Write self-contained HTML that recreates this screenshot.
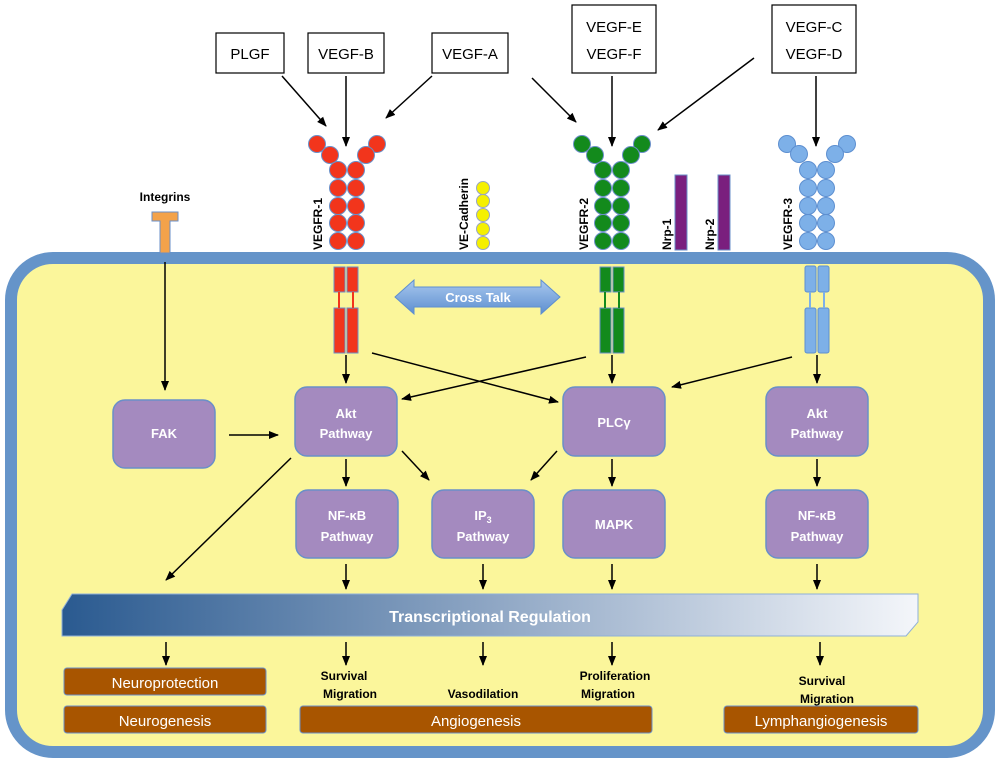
<!DOCTYPE html>
<html><head><meta charset="utf-8"><style>
body{margin:0;background:#fff}
svg{display:block}
text{font-family:"Liberation Sans",sans-serif}
.lb{font-size:15px;fill:#000}
.pt{font-size:13px;font-weight:bold;fill:#fff;text-anchor:middle}
.bt{font-size:15px;fill:#fff;text-anchor:middle}
.ot{font-size:12px;font-weight:bold;fill:#000;text-anchor:middle}
.vt{font-size:12px;font-weight:bold;fill:#000}
</style></head><body>
<svg width="1000" height="766" viewBox="0 0 1000 766" xmlns="http://www.w3.org/2000/svg">
<defs>
<marker id="a" markerWidth="10" markerHeight="10" refX="9" refY="5" orient="auto" markerUnits="userSpaceOnUse"><path d="M0,1 L10,5 L0,9 z" fill="#000"/></marker>
<linearGradient id="tg" x1="0" x2="1"><stop offset="0" stop-color="#2a5a90"/><stop offset="0.5" stop-color="#8ea6c4"/><stop offset="1" stop-color="#f4f6fa"/></linearGradient>
<linearGradient id="cg" x1="0" y1="0" x2="0" y2="1"><stop offset="0" stop-color="#a9c8ee"/><stop offset="1" stop-color="#5d8fd0"/></linearGradient>
</defs>
<rect x="11" y="258" width="978" height="494" rx="42" fill="#fbf69b" stroke="#6594c9" stroke-width="12"/>
<g fill="#fff" stroke="#000" stroke-width="1.2">
<rect x="216" y="33" width="68" height="40"/><rect x="308" y="33" width="76" height="40"/><rect x="432" y="33" width="76" height="40"/>
<rect x="572" y="5" width="84" height="68"/><rect x="772" y="5" width="84" height="68"/></g>
<g class="lb" text-anchor="middle">
<text x="250" y="59" class="lb">PLGF</text><text x="346" y="59" class="lb">VEGF-B</text><text x="470" y="59" class="lb">VEGF-A</text>
<text x="614" y="32" class="lb">VEGF-E</text><text x="614" y="59" class="lb">VEGF-F</text>
<text x="814" y="32" class="lb">VEGF-C</text><text x="814" y="59" class="lb">VEGF-D</text></g>
<g stroke="#000" stroke-width="1.5" marker-end="url(#a)">
<line x1="282" y1="76" x2="326" y2="126"/><line x1="346" y1="76" x2="346" y2="146"/><line x1="432" y1="76" x2="386" y2="118"/>
<line x1="532" y1="78" x2="576" y2="122"/><line x1="612" y1="76" x2="612" y2="146"/><line x1="754" y1="58" x2="658" y2="130"/>
<line x1="816" y1="76" x2="816" y2="146"/></g>
<g fill="#f2351c" stroke="#6a8fc8" stroke-width="1">
<circle cx="317" cy="144" r="8.5"/><circle cx="330" cy="155" r="8.5"/><circle cx="377" cy="144" r="8.5"/><circle cx="366" cy="155" r="8.5"/>
<circle cx="338" cy="170" r="8.5"/><circle cx="356" cy="170" r="8.5"/><circle cx="338" cy="188" r="8.5"/><circle cx="356" cy="188" r="8.5"/>
<circle cx="338" cy="206" r="8.5"/><circle cx="356" cy="206" r="8.5"/><circle cx="338" cy="223" r="8.5"/><circle cx="356" cy="223" r="8.5"/>
<circle cx="338" cy="241" r="8.5"/><circle cx="356" cy="241" r="8.5"/>
<rect x="334" y="267" width="11" height="25"/><rect x="347" y="267" width="11" height="25"/>
<rect x="334" y="308" width="11" height="45"/><rect x="347" y="308" width="11" height="45"/></g>
<g stroke="#f2351c" stroke-width="2"><line x1="339" y1="292" x2="339" y2="308"/><line x1="353" y1="292" x2="353" y2="308"/></g>
<g fill="#138a1c" stroke="#6a8fc8" stroke-width="1">
<circle cx="582" cy="144" r="8.5"/><circle cx="595" cy="155" r="8.5"/><circle cx="642" cy="144" r="8.5"/><circle cx="631" cy="155" r="8.5"/>
<circle cx="603" cy="170" r="8.5"/><circle cx="621" cy="170" r="8.5"/><circle cx="603" cy="188" r="8.5"/><circle cx="621" cy="188" r="8.5"/>
<circle cx="603" cy="206" r="8.5"/><circle cx="621" cy="206" r="8.5"/><circle cx="603" cy="223" r="8.5"/><circle cx="621" cy="223" r="8.5"/>
<circle cx="603" cy="241" r="8.5"/><circle cx="621" cy="241" r="8.5"/>
<rect x="600" y="267" width="11" height="25"/><rect x="613" y="267" width="11" height="25"/>
<rect x="600" y="308" width="11" height="45"/><rect x="613" y="308" width="11" height="45"/></g>
<g stroke="#138a1c" stroke-width="2"><line x1="605" y1="292" x2="605" y2="308"/><line x1="619" y1="292" x2="619" y2="308"/></g>
<g fill="#7db0e8" stroke="#5d8fd0" stroke-width="1">
<circle cx="787" cy="144" r="8.5"/><circle cx="799" cy="154" r="8.5"/><circle cx="847" cy="144" r="8.5"/><circle cx="835" cy="154" r="8.5"/>
<circle cx="808" cy="170" r="8.5"/><circle cx="826" cy="170" r="8.5"/><circle cx="808" cy="188" r="8.5"/><circle cx="826" cy="188" r="8.5"/>
<circle cx="808" cy="206" r="8.5"/><circle cx="826" cy="206" r="8.5"/><circle cx="808" cy="223" r="8.5"/><circle cx="826" cy="223" r="8.5"/>
<circle cx="808" cy="241" r="8.5"/><circle cx="826" cy="241" r="8.5"/>
<rect x="805" y="266" width="11" height="26" rx="2"/><rect x="818" y="266" width="11" height="26" rx="2"/>
<rect x="805" y="308" width="11" height="45" rx="2"/><rect x="818" y="308" width="11" height="45" rx="2"/></g>
<g stroke="#7db0e8" stroke-width="2"><line x1="810" y1="292" x2="810" y2="308"/><line x1="824" y1="292" x2="824" y2="308"/></g>
<g fill="#f5f000" stroke="#9aa6c0" stroke-width="1">
<circle cx="483" cy="188" r="6.5"/><circle cx="483" cy="201" r="6.5"/><circle cx="483" cy="215" r="6.5"/><circle cx="483" cy="229" r="6.5"/><circle cx="483" cy="243" r="6.5"/></g>
<rect x="675" y="175" width="12" height="75" fill="#7a1f7e" stroke="#6a8fc8"/>
<rect x="718" y="175" width="12" height="75" fill="#7a1f7e" stroke="#6a8fc8"/>
<path d="M152,212 h26 v9 h-8 v32 h-10 v-32 h-8 z" fill="#f3a24a" stroke="#6a8fc8"/>
<text x="165" y="201" class="ot">Integrins</text>
<g class="vt">
<text transform="translate(322,250) rotate(-90)">VEGFR-1</text>
<text transform="translate(468,250) rotate(-90)">VE-Cadherin</text>
<text transform="translate(588,250) rotate(-90)">VEGFR-2</text>
<text transform="translate(671,250) rotate(-90)">Nrp-1</text>
<text transform="translate(714,250) rotate(-90)">Nrp-2</text>
<text transform="translate(792,250) rotate(-90)">VEGFR-3</text></g>
<path d="M395,297 L414,280 L414,287 L541,287 L541,280 L560,297 L541,314 L541,307 L414,307 L414,314 z" fill="url(#cg)" stroke="#5d8fd0"/>
<text x="478" y="302" text-anchor="middle" style="font-size:13px;font-weight:bold;fill:#fff">Cross Talk</text>
<g fill="#a48abf" stroke="#6a8fc8" stroke-width="1.5">
<rect x="113" y="400" width="102" height="68" rx="12"/>
<rect x="295" y="387" width="102" height="69" rx="12"/>
<rect x="563" y="387" width="102" height="69" rx="12"/>
<rect x="766" y="387" width="102" height="69" rx="12"/>
<rect x="296" y="490" width="102" height="68" rx="12"/>
<rect x="432" y="490" width="102" height="68" rx="12"/>
<rect x="563" y="490" width="102" height="68" rx="12"/>
<rect x="766" y="490" width="102" height="68" rx="12"/></g>
<text x="164" y="438" class="pt">FAK</text>
<text x="346" y="418" class="pt">Akt</text><text x="346" y="438" class="pt">Pathway</text>
<text x="614" y="427" class="pt">PLCγ</text>
<text x="817" y="418" class="pt">Akt</text><text x="817" y="438" class="pt">Pathway</text>
<text x="347" y="520" class="pt">NF-κB</text><text x="347" y="541" class="pt">Pathway</text>
<text x="483" y="520" class="pt">IP<tspan font-size="9" dy="3">3</tspan></text><text x="483" y="541" class="pt">Pathway</text>
<text x="614" y="529" class="pt">MAPK</text>
<text x="817" y="520" class="pt">NF-κB</text><text x="817" y="541" class="pt">Pathway</text>
<g stroke="#000" stroke-width="1.5" marker-end="url(#a)">
<line x1="165" y1="262" x2="165" y2="390"/>
<line x1="346" y1="355" x2="346" y2="383"/>
<line x1="612" y1="355" x2="612" y2="383"/>
<line x1="817" y1="355" x2="817" y2="383"/>
<line x1="372" y1="353" x2="558" y2="402"/>
<line x1="586" y1="357" x2="402" y2="399"/>
<line x1="792" y1="357" x2="672" y2="387"/>
<line x1="229" y1="435" x2="278" y2="435"/>
<line x1="346" y1="459" x2="346" y2="486"/>
<line x1="817" y1="459" x2="817" y2="486"/>
<line x1="612" y1="459" x2="612" y2="486"/>
<line x1="402" y1="451" x2="429" y2="480"/>
<line x1="557" y1="451" x2="531" y2="480"/>
<line x1="291" y1="458" x2="166" y2="580"/>
<line x1="346" y1="564" x2="346" y2="589"/>
<line x1="483" y1="564" x2="483" y2="589"/>
<line x1="612" y1="564" x2="612" y2="589"/>
<line x1="817" y1="564" x2="817" y2="589"/>
<line x1="166" y1="642" x2="166" y2="665"/>
<line x1="346" y1="642" x2="346" y2="665"/>
<line x1="483" y1="642" x2="483" y2="665"/>
<line x1="612" y1="642" x2="612" y2="665"/>
<line x1="820" y1="642" x2="820" y2="665"/></g>
<path d="M72,594 L918,594 L918,622 L906,636 L62,636 L62,610 z" fill="url(#tg)" stroke="#8fb0d8"/>
<text x="490" y="622" text-anchor="middle" style="font-size:16px;font-weight:bold;fill:#fff">Transcriptional Regulation</text>
<g class="ot">
<text x="344" y="680">Survival</text><text x="350" y="698">Migration</text>
<text x="483" y="698">Vasodilation</text>
<text x="615" y="680">Proliferation</text><text x="608" y="698">Migration</text>
<text x="822" y="685">Survival</text><text x="827" y="703">Migration</text></g>
<g fill="#a85500" stroke="#6a8fc8" stroke-width="1">
<rect x="64" y="668" width="202" height="27" rx="3"/>
<rect x="64" y="706" width="202" height="27" rx="3"/>
<rect x="300" y="706" width="352" height="27" rx="3"/>
<rect x="724" y="706" width="194" height="27" rx="3"/></g>
<text x="165" y="688" class="bt">Neuroprotection</text>
<text x="165" y="726" class="bt">Neurogenesis</text>
<text x="476" y="726" class="bt">Angiogenesis</text>
<text x="821" y="726" class="bt">Lymphangiogenesis</text>
</svg>
</body></html>
